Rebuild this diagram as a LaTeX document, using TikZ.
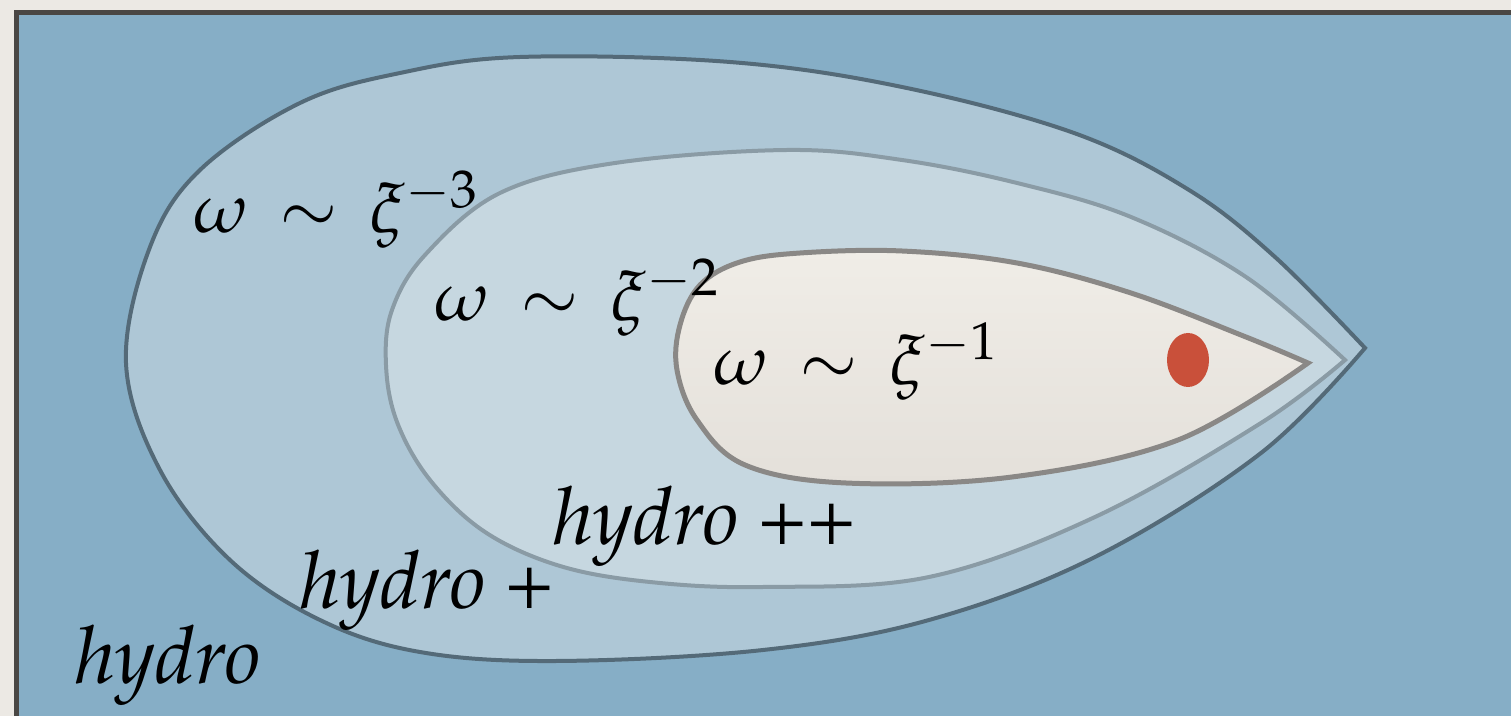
\documentclass[tikz,border=0pt]{standalone}
\usepackage[T1]{fontenc}
\usepackage{mathpazo}
\definecolor{paper}{HTML}{ECE9E4}
\definecolor{framec}{HTML}{4A4744}
\definecolor{sea}{HTML}{86AEC6}
\definecolor{zoneA}{HTML}{AEC7D6}
\definecolor{zoneAline}{HTML}{546A78}
\definecolor{zoneB}{HTML}{C6D7E0}
\definecolor{zoneBline}{HTML}{8A9BA5}
\definecolor{zoneC}{HTML}{F0EDE7}
\definecolor{zoneCbot}{HTML}{E4E0DA}
\definecolor{zoneCline}{HTML}{8A8886}
\definecolor{dotred}{HTML}{C9503A}
\newcommand{\wxi}[1]{$\omega\,\sim\,\xi^{-#1}$}
\tikzset{
  lab/.style={inner sep=0pt, anchor=base west, text=black},
  hydfont/.style={font=\fontfamily{ppl}\fontsize{40}{48}\selectfont\itshape},
  mathfont/.style={font=\fontsize{35}{42}\selectfont},
}
\begin{document}
\begin{tikzpicture}[x=0.5pt,y=-0.5pt]
\useasboundingbox (0,0) rectangle (1511,716);
\clip (0,0) rectangle (1511,716);
\fill[paper] (0,0) rectangle (1511,716);
\draw[framec, line width=2.5pt, fill=sea] (16,13) rectangle (1540,740);
% outer zone
\draw[zoneAline, line width=2pt, fill=zoneA, line join=miter]
  plot[smooth, tension=0.6] coordinates {(1365,348) (1275,257) (1189,190) (1074,133) (902,87) (730,62) (520,57) (400,73) (300,103) (200,170) (150,247) (126,363) (160,470) (230,560) (320,620) (420,652) (556,661) (763,650) (929,620) (1095,557) (1261,453) (1365,348)} -- cycle;
% middle zone
\draw[zoneBline, line width=2pt, fill=zoneB, line join=miter]
  plot[smooth, tension=0.6] coordinates {(1345,360) (1246,277) (1131,217) (1017,183) (902,160) (787,150) (615,163) (500,193) (425,255) (392,310) (386,365) (397,422) (430,480) (485,532) (560,566) (650,582) (763,587) (929,577) (1095,517) (1261,423) (1345,360)} -- cycle;
% inner zone
\draw[zoneCline, line width=2.5pt, top color=zoneC, bottom color=zoneCbot, line join=miter]
  plot[smooth, tension=0.6] coordinates {(1308,363) (1246,337) (1131,293) (1017,263) (902,251) (800,253) (740,262) (700,285) (680,325) (677,370) (697,420) (745,465) (846,483) (1012,477) (1178,440) (1308,363)} -- cycle;
% red dot
\fill[dotred] (1188,360) ellipse [x radius=21, y radius=27];
% labels
\node[lab, mathfont] (w3) at (193,233) {\wxi{3}};
\node[lab, mathfont] (w2) at (434,321) {\wxi{2}};
\node[lab, mathfont] (w1) at (713,385) {\wxi{1}};
\node[lab, hydfont] (h2) at (553,545) {hydro ++};
\node[lab, hydfont] (h1) at (300,609) {hydro +};
\node[lab, hydfont] (h0) at (75,683) {hydro};
\end{tikzpicture}
\end{document}
